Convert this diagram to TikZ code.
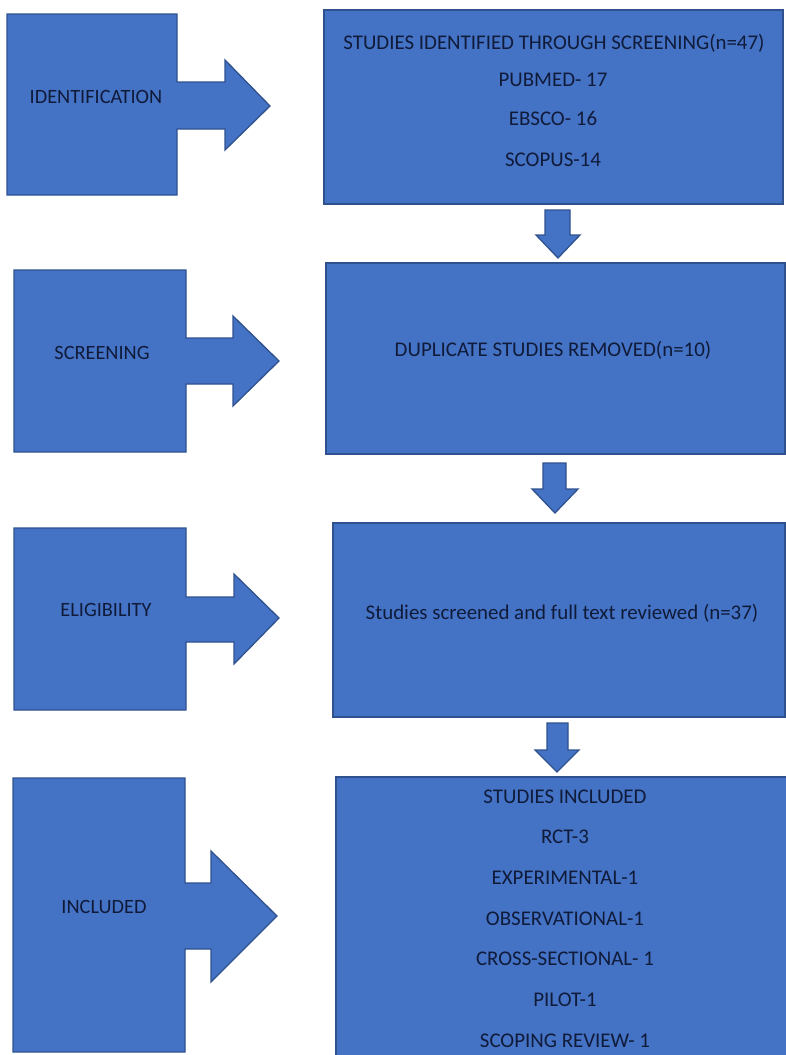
\documentclass[tikz,border=0pt]{standalone}
\usepackage{fontspec}
\setmainfont{Carlito}
\definecolor{boxfill}{HTML}{4472C4}
\definecolor{boxline}{HTML}{2F528F}
\definecolor{txt}{HTML}{101B3A}
\begin{document}
\begin{tikzpicture}[x=1pt,y=-1pt,
  shapestyle/.style={fill=boxfill,draw=boxline,line width=1.3pt,line join=miter},
  lbl/.style={text=txt,font=\fontsize{20.3}{24}\selectfont,inner sep=0pt,anchor=center},
  boxtxt/.style={text=txt,font=\fontsize{20.9}{24}\selectfont,inner sep=0pt,anchor=center}]
\useasboundingbox (0,0) rectangle (786,1055);
\clip (0,0) rectangle (786,1055);
% ---- left labelled arrows
\path[shapestyle] (7,14) -- (177,14) -- (177,82) -- (225,82) -- (225,60) -- (270,106)
  -- (225,150) -- (225,129) -- (177,129) -- (177,195) -- (7,195) -- cycle;
\path[shapestyle] (14,270) -- (186,270) -- (186,338) -- (233,338) -- (233,316) -- (279,361)
  -- (233,406) -- (233,384) -- (186,384) -- (186,452) -- (14,452) -- cycle;
\path[shapestyle] (14,528) -- (186,528) -- (186,597) -- (234,597) -- (234,574) -- (279,618)
  -- (234,664) -- (234,642) -- (186,642) -- (186,710) -- (14,710) -- cycle;
\path[shapestyle] (13,778) -- (185,778) -- (185,883) -- (211,883) -- (211,851) -- (277,916)
  -- (211,982) -- (211,949) -- (185,949) -- (185,1052) -- (13,1052) -- cycle;
\node[lbl] (tIdent) at (96,97) {IDENTIFICATION};
\node[lbl] (tScreen) at (102,353) {SCREENING};
\node[lbl] (tElig) at (106,610) {ELIGIBILITY};
\node[lbl] (tIncl) at (104,907) {INCLUDED};
% ---- right boxes
\path[shapestyle] (324,10) rectangle (783,204);
\path[shapestyle] (326,263) rectangle (785,454);
\path[shapestyle] (333,523) rectangle (785,717);
\path[shapestyle] (336,777) rectangle (800,1070);
% ---- down arrows
\path[shapestyle] (545,210) -- (570,210) -- (570,235) -- (580,235) -- (558,258) -- (536,235) -- (545,235) -- cycle;
\path[shapestyle] (543,463) -- (566,463) -- (566,489) -- (578,489) -- (555,513) -- (532,489) -- (543,489) -- cycle;
\path[shapestyle] (547,723) -- (568,723) -- (568,750) -- (579,750) -- (557,772) -- (535,750) -- (547,750) -- cycle;
% ---- box texts
\node[boxtxt] (b1a) at (554,43) {STUDIES IDENTIFIED THROUGH SCREENING(n=47)};
\node[boxtxt] (b1b) at (553,80) {PUBMED- 17};
\node[boxtxt] (b1c) at (553,119) {EBSCO- 16};
\node[boxtxt] (b1d) at (553,160) {SCOPUS-14};
\node[boxtxt] (b2a) at (553,350) {DUPLICATE STUDIES REMOVED(n=10)};
\node[boxtxt] (b3a) at (562,613) {Studies screened and full text reviewed (n=37)};
\node[boxtxt] (b4a) at (565,797) {STUDIES INCLUDED};
\node[boxtxt] (b4b) at (565,837) {RCT-3};
\node[boxtxt] (b4c) at (565,878) {EXPERIMENTAL-1};
\node[boxtxt] (b4d) at (565,919) {OBSERVATIONAL-1};
\node[boxtxt] (b4e) at (565,959) {CROSS-SECTIONAL- 1};
\node[boxtxt] (b4f) at (565,1000) {PILOT-1};
\node[boxtxt] (b4g) at (565,1041) {SCOPING REVIEW- 1};
\end{tikzpicture}
\end{document}
